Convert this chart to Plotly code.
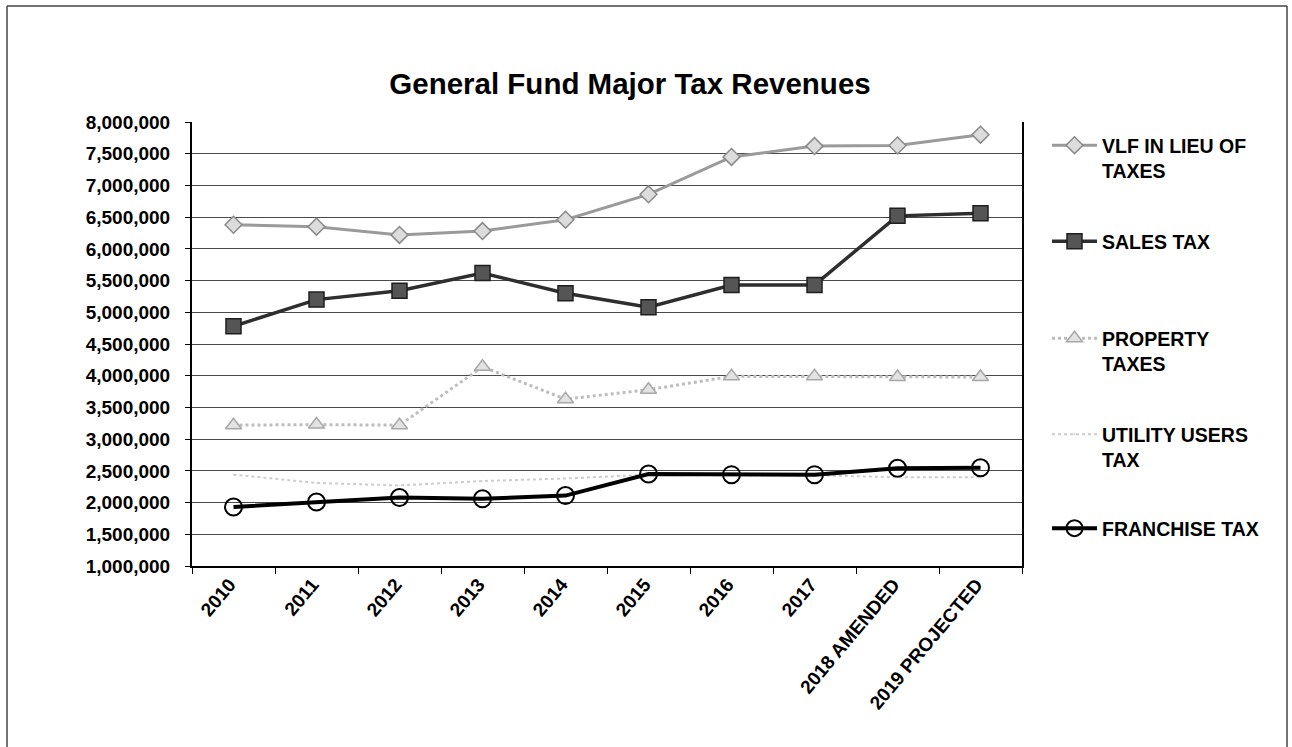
import plotly.graph_objects as go

# Fiscal years on the category axis
years = ["2010", "2011", "2012", "2013", "2014", "2015", "2016", "2017",
         "2018 AMENDED", "2019 PROJECTED"]

# Revenue by source (dollars)
vlf_in_lieu = [6380000, 6350000, 6220000, 6280000, 6460000, 6860000, 7450000, 7620000, 7630000, 7800000]
sales_tax = [4780000, 5200000, 5340000, 5620000, 5300000, 5080000, 5430000, 5430000, 6520000, 6560000]
property_taxes = [3220000, 3230000, 3220000, 4140000, 3630000, 3780000, 3990000, 3990000, 3980000, 3980000]
utility_users_tax = [2440000, 2310000, 2270000, 2340000, 2380000, 2440000, 2430000, 2430000, 2400000, 2400000]
franchise_tax = [1930000, 2010000, 2080000, 2060000, 2110000, 2450000, 2440000, 2440000, 2540000, 2550000]

SANS = "Liberation Sans, Arial, sans-serif"

# plot-area pixel geometry (page is 1292 x 747)
W, H = 1292, 747
L, R, T, B = 192, 1022, 122, 566


def px_x(p):
    return (p - L) / (R - L)


def px_y(p):
    return (B - p) / (B - T)


series = [
    dict(name="VLF IN LIEU OF<br>TAXES", y=vlf_in_lieu, legend="legend",
         line=dict(color="#9a9a9a", width=3),
         marker=dict(symbol="diamond", size=13, color="#dcdcdc",
                     line=dict(color="#8a8a8a", width=1.5))),
    dict(name="SALES TAX", y=sales_tax, legend="legend2",
         line=dict(color="#2e2e2e", width=3.5),
         marker=dict(symbol="square", size=15, color="#555555",
                     line=dict(color="#1e1e1e", width=1.5))),
    dict(name="PROPERTY<br>TAXES", y=property_taxes, legend="legend3",
         line=dict(color="#bdbdbd", width=3, dash="dot"),
         marker=dict(symbol="triangle-up", size=14, color="#e2e2e2",
                     line=dict(color="#a8a8a8", width=1.5))),
    dict(name="UTILITY USERS<br>TAX", y=utility_users_tax, legend="legend4",
         line=dict(color="#cccccc", width=2, dash="dot"),
         marker=dict(symbol="circle", size=1, color="#cccccc")),
    dict(name="FRANCHISE TAX", y=franchise_tax, legend="legend5",
         line=dict(color="#000000", width=4),
         marker=dict(symbol="circle-open", size=17,
                     line=dict(color="#000000", width=2))),
]

fig = go.Figure()
for s in series:
    fig.add_trace(go.Scatter(x=years, y=s["y"], name=s["name"], mode="lines+markers",
                             line=s["line"], marker=s["marker"], legend=s["legend"]))

legend_font = dict(family=SANS, size=19.5, color="#000000", weight="bold")
legend_tops = {"legend": 126, "legend2": 222, "legend3": 319, "legend4": 415, "legend5": 509}
legend_cfg = {}
for key, top in legend_tops.items():
    legend_cfg[key] = dict(x=px_x(1047), y=px_y(top), xanchor="left", yanchor="top",
                           font=legend_font, bgcolor="rgba(0,0,0,0)", borderwidth=0,
                           itemwidth=45, valign="top")

fig.update_layout(
    width=W, height=H,
    margin=dict(l=L, r=W - R, t=T, b=H - B, pad=0, autoexpand=False),
    paper_bgcolor="#ffffff", plot_bgcolor="#ffffff",
    showlegend=True,
    title=dict(text="General Fund Major Tax Revenues",
               font=dict(family=SANS, size=29.5, color="#000000", weight="bold"),
               x=px_x(630), xref="paper", xanchor="center",
               y=1 - 84 / H, yref="container", yanchor="middle"),
    xaxis=dict(type="category", range=[-0.5, 9.5], showgrid=False, showline=True,
               linecolor="#000000", linewidth=2, mirror=False, ticks="outside",
               ticklen=6, tickcolor="#000000", tickson="boundaries", tickangle=-50,
               ticklabelshift=-4, ticklabelstandoff=-2,
               tickfont=dict(family=SANS, size=19, color="#000000", weight="bold")),
    yaxis=dict(range=[1000000, 8000000], dtick=500000, tickformat=",d",
               showgrid=True, gridcolor="#4a4a4a", gridwidth=1,
               showline=True, linecolor="#000000", linewidth=2, mirror=True,
               ticks="outside", ticklen=5, tickcolor="#000000",
               ticklabelstandoff=11, zeroline=False,
               tickfont=dict(family=SANS, size=19, color="#000000", weight="bold")),
    **legend_cfg,
)

# outer chart border
border = dict(color="#444444", width=1.5)
fig.add_shape(type="line", xref="paper", yref="paper", x0=px_x(7), x1=px_x(7),
              y0=px_y(H + 5), y1=px_y(6), line=border)
fig.add_shape(type="line", xref="paper", yref="paper", x0=px_x(7), x1=px_x(1287),
              y0=px_y(6), y1=px_y(6), line=border)
fig.add_shape(type="line", xref="paper", yref="paper", x0=px_x(1287), x1=px_x(1287),
              y0=px_y(H + 5), y1=px_y(6), line=border)

fig.write_html("out.html")
